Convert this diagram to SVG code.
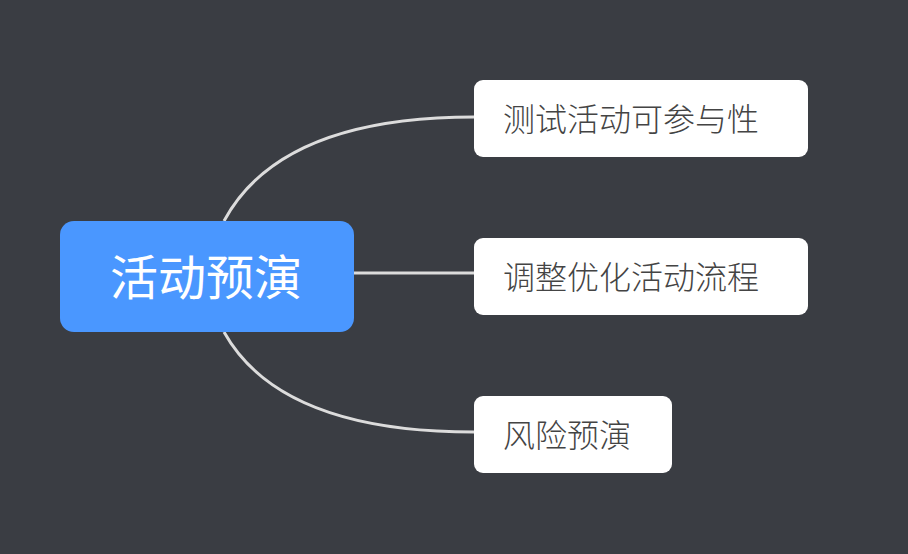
<svg xmlns="http://www.w3.org/2000/svg" width="908" height="554" viewBox="0 0 908 554">
<style>
.bg{fill:#3a3d43}
.conn{fill:none;stroke:#dcdcdc;stroke-width:3}
.child rect{fill:#ffffff}
.child text{fill:#444444;font-family:"Noto Sans CJK SC","Noto Sans",sans-serif;font-size:32px;font-weight:300}
.root rect{fill:#4a97ff}
.root text{fill:#ffffff;font-family:"Noto Sans CJK SC","Noto Sans",sans-serif;font-size:48px;font-weight:400}
</style>
<rect class="bg" x="0" y="0" width="908" height="554"/>
<g id="connectors">
<path class="conn" d="M224,221 Q280,117 474,117"/>
<path class="conn" d="M354,273 L474,273"/>
<path class="conn" d="M224,332 Q280,432 474,432"/>
</g>
<g id="root" class="root">
<rect x="60" y="221" width="294" height="111" rx="14"/>
<text x="206" y="295" text-anchor="middle">活动预演</text>
</g>
<g id="n1" class="child">
<rect x="474" y="80" width="334" height="77" rx="9"/>
<text x="503" y="131">测试活动可参与性</text>
</g>
<g id="n2" class="child">
<rect x="474" y="238" width="334" height="77" rx="9"/>
<text x="503" y="289">调整优化活动流程</text>
</g>
<g id="n3" class="child">
<rect x="474" y="396" width="198" height="77" rx="9"/>
<text x="503" y="447">风险预演</text>
</g>
</svg>
